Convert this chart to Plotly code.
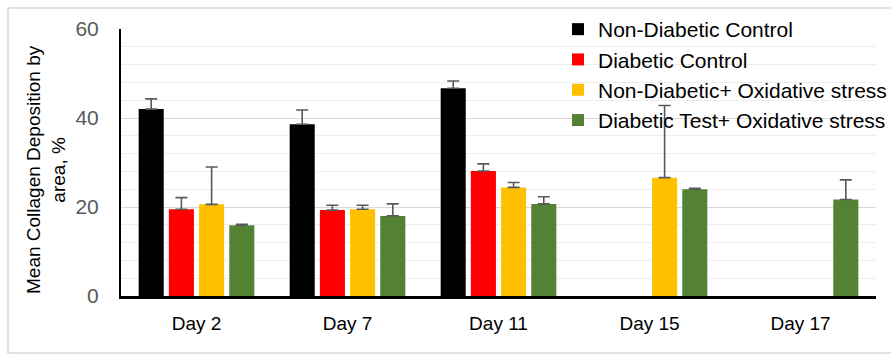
import plotly.graph_objects as go

days = ["Day 2", "Day 7", "Day 11", "Day 15", "Day 17"]
series_names = ["Non-Diabetic Control", "Diabetic Control",
                "Non-Diabetic+ Oxidative stress", "Diabetic Test+ Oxidative stress"]
non_diabetic_control = [42.0, 38.6, 46.7, None, None]
non_diabetic_control_err = [2.3, 3.2, 1.6, None, None]
diabetic_control = [19.5, 19.3, 28.1, None, None]
diabetic_control_err = [2.6, 1.1, 1.6, None, None]
non_diabetic_ox = [20.6, 19.5, 24.4, 26.6, None]
non_diabetic_ox_err = [8.4, 0.9, 1.1, 16.2, None]
diabetic_test_ox = [15.9, 18.0, 20.7, 24.0, 21.7]
diabetic_test_ox_err = [0.2, 2.7, 1.6, 0.2, 4.4]
colors = ["#000000", "#FF0000", "#FFC000", "#548235"]

values = [non_diabetic_control, diabetic_control, non_diabetic_ox, diabetic_test_ox]
errors = [non_diabetic_control_err, diabetic_control_err, non_diabetic_ox_err, diabetic_test_ox_err]

FONT = "Liberation Sans"
fig = go.Figure()
for name, v, e, c in zip(series_names, values, errors, colors):
    fig.add_trace(go.Bar(
        x=days, y=v, name=name, marker=dict(color=c, line=dict(width=0)),
        error_y=dict(type="data", array=[x if x is not None else 0 for x in e],
                     symmetric=False, arrayminus=[0]*len(e),
                     color="#595959", thickness=1.6, width=6),
    ))

W, H = 891, 355
L, R, T, B = 121, 15, 29, 59
pw, ph = W - L - R, H - T - B

fig.update_layout(
    width=W, height=H,
    margin=dict(l=L, r=R, t=T, b=B, pad=0, autoexpand=False),
    paper_bgcolor="white", plot_bgcolor="white",
    barmode="group", bargap=0.2, bargroupgap=0.17,
    font=dict(family=FONT, color="black"),
    legend=dict(x=(558 - L) / pw, y=(H - B - 9) / ph, xanchor="left", yanchor="top",
                bgcolor="rgba(0,0,0,0)", font=dict(size=21, family=FONT, color="black"),
                tracegroupgap=0, itemwidth=30),
    showlegend=True,
)
fig.update_yaxes(
    range=[0, 60], tickvals=[0, 20, 40, 60], showgrid=True, gridcolor="#D9D9D9", gridwidth=1.2,
    minor=dict(dtick=4, showgrid=True, gridcolor="#EEEEEE", gridwidth=1),
    showline=True, linecolor="black", linewidth=2,
    tickfont=dict(size=21, color="#595959", family=FONT),
    ticks="", ticklabelstandoff=16, zeroline=False,
)
fig.update_xaxes(
    showline=True, linecolor="black", linewidth=2.5,
    tickfont=dict(size=19, color="black", family=FONT),
    ticks="", ticklabelstandoff=8,
)
fig.add_annotation(
    text="Mean Collagen Deposition by<br>area, %", textangle=-90,
    xref="paper", yref="paper", x=(46 - L) / pw, y=(H - B - 170) / ph,
    xanchor="center", yanchor="middle", showarrow=False,
    font=dict(size=19, family=FONT, color="black"),
)
fig.add_shape(
    type="rect", xref="paper", yref="paper",
    x0=(8 - L) / pw, x1=(W + 20 - L) / pw, y0=(H - B - 353) / ph, y1=(H - B - 8) / ph,
    line=dict(color="#D9D9D9", width=1.5), fillcolor="rgba(0,0,0,0)", layer="below",
)
fig.write_html("out.html")
